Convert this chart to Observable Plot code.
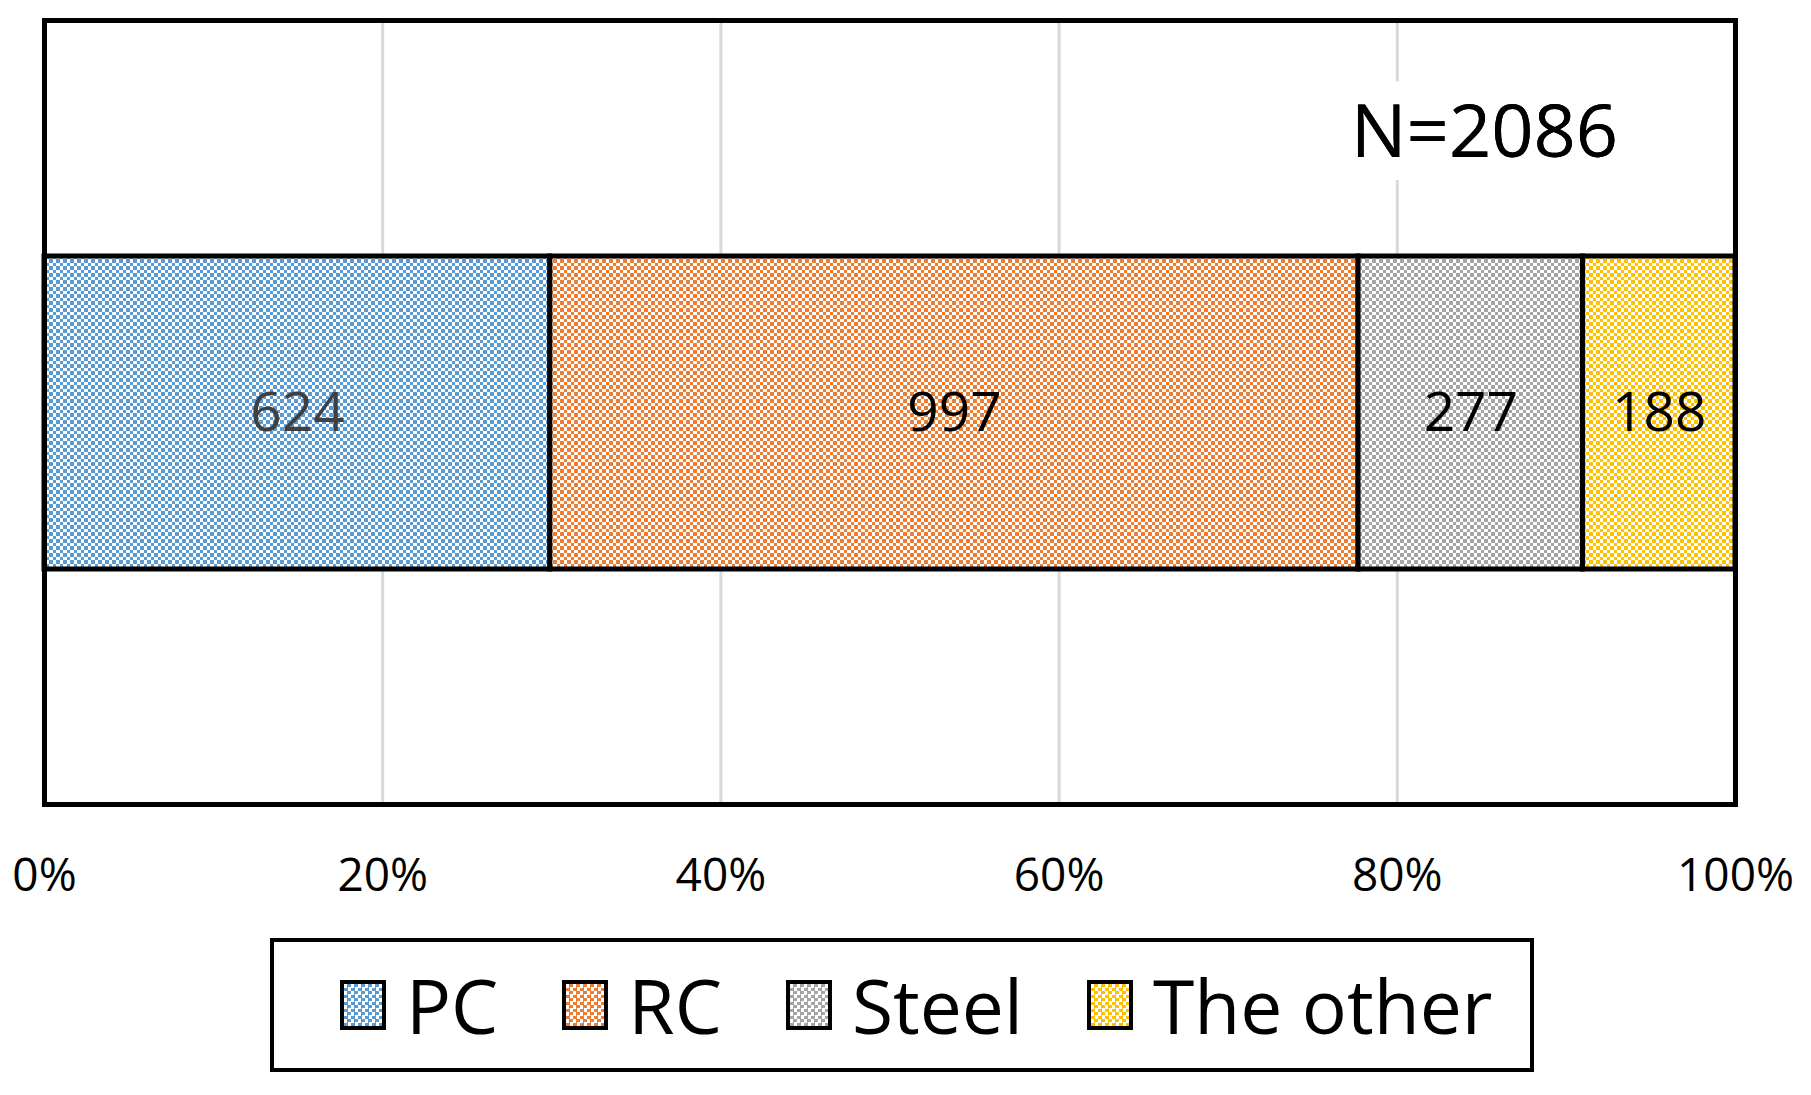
<!DOCTYPE html>
<html>
<head>
<meta charset="utf-8">
<script src="https://cdn.jsdelivr.net/npm/d3@7"></script>
<script src="https://cdn.jsdelivr.net/npm/@observablehq/plot@0.6"></script>
<style>
  body { margin: 0; background: #fff; font-family: "Open Sans", "Liberation Sans", sans-serif; }
  #chart svg { display: block; }
  .legend {
    position: relative; margin-left: 270px; margin-top: 33px;
    width: 1264px; height: 134px; border: 4px solid #000; box-sizing: border-box;
    display: flex; align-items: center; padding-left: 66px; white-space: nowrap;
  }
  .item { display: flex; align-items: center; margin-right: 64px; flex-shrink: 0; }
  .item:last-child { margin-right: 0; }
  .sw { width: 38px; height: 42px; border: 4px solid #000; margin-right: 20px; flex-shrink: 0; }
  .lbl { font-size: 75px; line-height: 1; color: #000; white-space: nowrap; }
</style>
</head>
<body>
<svg width="0" height="0" style="position:absolute">
  <defs id="defs"></defs>
</svg>
<div id="chart"></div>
<div class="legend" id="legend"></div>
<script>
const categories = ["PC", "RC", "Steel", "The other"];
const counts = [624, 997, 277, 188];
const total = 2086;
const tickValues = [0, 0.2, 0.4, 0.6, 0.8, 1];

const palette = ["#5B9BD5", "#ED7D31", "#A5A5A5", "#FFC000"];
const labelColors = ["#404040", "#000000", "#000000", "#000000"];

// checkerboard patterns: 14px tile with 4/3px cells (coarse checker like the reference)
const edges = [0, 4, 7, 11, 14];
const defs = d3.select("#defs");
categories.forEach((c, i) => {
  const p = defs.append("pattern").attr("id", "pat" + i)
    .attr("patternUnits", "userSpaceOnUse").attr("width", 14).attr("height", 14);
  p.append("rect").attr("width", 14).attr("height", 14).attr("fill", "#fff");
  for (let a = 0; a < 4; a++) for (let b = 0; b < 4; b++) {
    if ((a + b) % 2 === 0) {
      p.append("rect").attr("x", edges[a]).attr("y", edges[b])
        .attr("width", edges[a + 1] - edges[a]).attr("height", edges[b + 1] - edges[b])
        .attr("fill", palette[i]);
    }
  }
});

const data = categories.map((c, i) => ({cat: c, value: counts[i], idx: i, g: "all"}));

const plot = Plot.plot({
  width: 1811,
  height: 905,
  marginTop: 20,
  marginLeft: 44,
  marginRight: 76,
  marginBottom: 101,
  style: {fontFamily: "Open Sans, Liberation Sans, sans-serif", background: "#fff"},
  x: {domain: [0, 1], axis: null, label: null},
  y: {domain: ["all"], padding: 0.4294, axis: null, label: null},
  color: {type: "identity"},
  marks: [
    Plot.gridX([0.2, 0.4, 0.6, 0.8], {stroke: "#D9D9D9", strokeWidth: 3, strokeOpacity: 1}),
    Plot.text([`N=${total}`], {frameAnchor: "top-right", dx: -251, dy: 113, text: d => d, fontSize: 74, fill: "#000",
      textAnchor: "middle", stroke: "#fff", strokeWidth: 46, lineAnchor: "middle"}),
    Plot.text([`N=${total}`], {frameAnchor: "top-right", dx: -251, dy: 113, text: d => d, fontSize: 74, fill: "#000",
      textAnchor: "middle", lineAnchor: "middle"}),
    Plot.barX(data, Plot.stackX({x: "value", y: "g", offset: "normalize",
      fill: d => `url(#pat${d.idx})`, stroke: "#000", strokeWidth: 5})),
    Plot.text(data, Plot.stackX({x: "value", y: "g", offset: "normalize",
      text: d => String(d.value), fill: d => labelColors[d.idx], fontSize: 55})),
    Plot.frame({stroke: "#000", strokeWidth: 5}),
    Plot.axisX(tickValues, {tickSize: 0, tickPadding: 54, fontSize: 46, label: null,
      tickFormat: d => Math.round(d * 100) + "%", fill: "#000"})
  ]
});
document.getElementById("chart").appendChild(plot);

// keep pattern squares aligned to device pixels despite any offset transform on the bars
const barG = plot.querySelector('g[aria-label="bar"]');
if (barG) {
  const t = barG.getAttribute("transform") || "";
  const m = t.match(/translate\(\s*([-\d.]+)[ ,]+([-\d.]+)\s*\)/);
  if (m) {
    const tx = (+m[1]) % 1, ty = (+m[2]) % 1;
    d3.selectAll("#defs pattern").attr("patternTransform", `translate(${-tx},${-ty})`);
  }
}

// legend
const leg = document.getElementById("legend");
categories.forEach((c, i) => {
  const it = document.createElement("div");
  it.className = "item";
  const sw = document.createElement("div");
  sw.className = "sw";
  sw.style.background = `repeating-conic-gradient(${palette[i]} 0 25%, #fff 0 50%) 0 0 / 7px 7px`;
  const lb = document.createElement("span");
  lb.className = "lbl";
  lb.textContent = c;
  it.appendChild(sw); it.appendChild(lb);
  leg.appendChild(it);
});
</script>
</body>
</html>
